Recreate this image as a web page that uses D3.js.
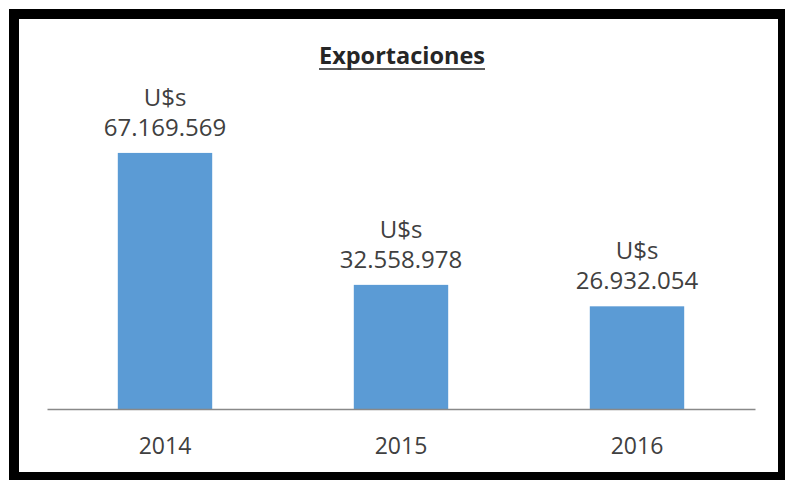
<!DOCTYPE html>
<html>
<head>
<meta charset="utf-8">
<script src="https://cdn.jsdelivr.net/npm/d3@7"></script>
<style>
  html, body { margin: 0; padding: 0; background: #fff; }
  svg { display: block; }
</style>
</head>
<body>
<div id="chart"></div>
<script>
const categories = ["2014", "2015", "2016"];
const values = [67169569, 32558978, 26932054];
const valueLabels = ["67.169.569", "32.558.978", "26.932.054"];
const currencyLabel = "U$s";
const title = "Exportaciones";

const W = 785, H = 480;
const svg = d3.select("#chart").append("svg").attr("width", W).attr("height", H);

// frame
svg.append("rect").attr("x", 9).attr("y", 9).attr("width", W - 9).attr("height", H - 9).attr("fill", "#000");
svg.append("rect").attr("x", 19).attr("y", 19).attr("width", 759).attr("height", 453).attr("fill", "#fff");

const font = "'Open Sans', 'DejaVu Sans', sans-serif";

const x = d3.scaleBand().domain(categories).range([47, 755]).paddingInner(0.6).paddingOuter(0.3);
const y = d3.scaleLinear().domain([0, 80000000]).range([409, 104]);

// bars
svg.selectAll("rect.bar").data(values).join("rect")
  .attr("class", "bar")
  .attr("x", (d, i) => x(categories[i]))
  .attr("width", x.bandwidth())
  .attr("y", d => y(d))
  .attr("height", d => y(0) - y(d))
  .attr("fill", "#5B9BD5");

// axis
const axis = svg.append("g").attr("transform", `translate(0,${y(0)})`)
  .call(d3.axisBottom(x).tickSize(0).tickPadding(29));
axis.select(".domain").attr("stroke", "#898989").attr("stroke-width", 1.5);
axis.selectAll("text").attr("font-family", font).attr("font-size", 23).attr("fill", "#404040");

// value labels
const lbl = svg.selectAll("g.lbl").data(values).join("g").attr("class", "lbl");
lbl.append("text")
  .attr("x", (d, i) => x(categories[i]) + x.bandwidth() / 2)
  .attr("y", d => y(d) - 47)
  .attr("text-anchor", "middle")
  .attr("font-family", font).attr("font-size", 24).attr("fill", "#404040")
  .text(currencyLabel);
lbl.append("text")
  .attr("x", (d, i) => x(categories[i]) + x.bandwidth() / 2)
  .attr("y", d => y(d) - 17)
  .attr("text-anchor", "middle")
  .attr("font-family", font).attr("font-size", 24).attr("fill", "#404040")
  .text((d, i) => valueLabels[i]);

// title
const t = svg.append("text")
  .attr("x", 402).attr("y", 64)
  .attr("text-anchor", "middle")
  .attr("font-family", font).attr("font-size", 23.5).attr("font-weight", "bold")
  .attr("fill", "#262626")
  .text(title);
const bb = t.node().getBBox();
svg.append("line").attr("x1", bb.x).attr("x2", bb.x + bb.width)
  .attr("y1", 69).attr("y2", 69).attr("stroke", "#262626").attr("stroke-width", 1.6);
</script>
</body>
</html>
